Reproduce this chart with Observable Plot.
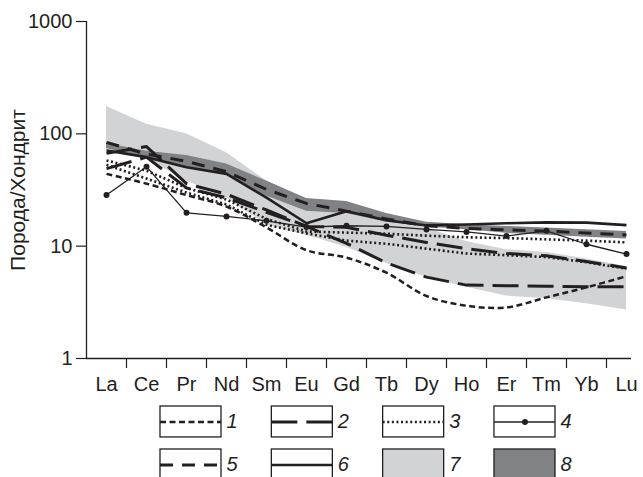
<!DOCTYPE html>
<html>
<head>
<meta charset="utf-8">
<script src="https://cdn.jsdelivr.net/npm/d3@7"></script>
<script src="https://cdn.jsdelivr.net/npm/@observablehq/plot@0.6"></script>
<style>
  body { margin: 0; background: #fff; }
  #chart svg, #legend svg { display: block; }
</style>
</head>
<body>
<div id="chart"></div>
<div id="legend"></div>
<script>
// ---------- data ----------
const elements = ["La","Ce","Pr","Nd","Sm","Eu","Gd","Tb","Dy","Ho","Er","Tm","Yb","Lu"];
const yTicks = [1, 10, 100, 1000];
const yLabel = "Порода/Хондрит";

const series1  = [44, 36, 28.5, 22.5, 14.7, 9.2, 7.9, 5.8, 3.6, 2.95, 2.85, 3.5, 4.3, 5.4];
const series2a = [67, 77, 36, 29, 21, 15, 10.6, 7.1, 5.3, 4.5, 4.45, 4.4, 4.35, 4.35];
const series2b = [49, 62, 33, 27, 20, 15, 14.7, 12.5, 10.8, 9.5, 8.6, 8.2, 7.3, 6.4];
const series3a = [58, 47, 33, 26, 17.5, 13.5, 13.2, 12.9, 12.4, 12, 11.8, 11.5, 11.2, 10.8];
const series3b = [53, 40, 30, 23.5, 15.5, 13, 11.2, 10.5, 9.5, 8.6, 8.3, 8.0, 7.2, 6.3];
const series4  = [28.5, 51, 19.8, 18.4, 16.8, 14.8, 15.2, 15, 14.1, 13.4, 12.3, 13.7, 10.4, 8.5];
const series5  = [84, 66, 57, 46, 32, 24, 20.5, 17.5, 15.2, 14.4, 14, 13.6, 13.1, 12.6];
const series6  = [71, 62, 50.5, 44, 27, 16, 20.5, 17, 15.3, 15.6, 16, 16.3, 16.2, 15.4];

const band7Upper = [175, 122, 100, 68, 38, 26, 23.5, 18, 14.5, 11, 9.3, 8.8, 7.7, 6.6];
const band7Lower = [71, 60, 38, 27, 15.5, 12.5, 9.8, 7, 5.3, 4.3, 3.6, 3.4, 3.07, 2.7];
const band8Upper = [82, 70, 64, 54, 38, 26.5, 25, 19.5, 16.3, 15.5, 15, 14.5, 14, 13.5];
const band8Lower = [74, 60, 50, 43, 28, 20.5, 19.5, 16.3, 14.8, 14, 13, 12.5, 12, 11.6];

const legendLabels = ["1", "2", "3", "4", "5", "6", "7", "8"];

// ---------- styles ----------
const ink = "#231f20";
const lightGray = "#d1d3d4";
const darkGray = "#808285";
const font = "'Liberation Sans', Arial, Helvetica, sans-serif";

const styles = {
  1: {strokeWidth: 2.5, strokeDasharray: "6,3.5"},
  2: {strokeWidth: 3, strokeDasharray: "26,9"},
  3: {strokeWidth: 2.6, strokeDasharray: "2,2.6"},
  4: {strokeWidth: 1.3},
  5: {strokeWidth: 3, strokeDasharray: "13,9"},
  6: {strokeWidth: 2.6}
};

const pts = arr => arr.map((v, i) => ({i, v})).filter(d => d.v != null);
const band = (lo, hi) => lo.map((l, i) => ({i, lo: l, hi: hi[i]})).filter(d => d.lo != null && d.hi != null);

const lineDefs = [
  {vals: series1, st: 1, curve: "catmull-rom"},
  {vals: series2a, st: 2, curve: "linear"},
  {vals: series2b, st: 2, curve: "linear"},
  {vals: series3a, st: 3, curve: "linear"},
  {vals: series3b, st: 3, curve: "linear"},
  {vals: series5, st: 5, curve: "linear"},
  {vals: series6, st: 6, curve: "linear"},
  {vals: series4, st: 4, curve: "linear"}
];

const chart = Plot.plot({
  width: 643,
  height: 400,
  marginLeft: 86,
  marginRight: 12,
  marginTop: 21,
  marginBottom: 42,
  style: {fontFamily: font, fontSize: "20px", color: ink, background: "white", overflow: "visible"},
  x: {type: "linear", domain: [-0.5, 13.125], axis: null, label: null},
  y: {type: "log", domain: [1, 1000], axis: null, label: null},
  marks: [
    Plot.areaY(band(band7Lower, band7Upper), {x: "i", y1: "lo", y2: "hi", fill: lightGray}),
    Plot.areaY(band(band8Lower, band8Upper), {x: "i", y1: "lo", y2: "hi", fill: darkGray}),
    ...lineDefs.map(d => Plot.line(pts(d.vals), {
      x: "i", y: "v", stroke: ink, curve: d.curve, strokeLinecap: "butt", strokeLinejoin: "round",
      ...styles[d.st]
    })),
    Plot.dot(pts(series4), {x: "i", y: "v", r: 3, fill: ink}),
    Plot.ruleY([1], {stroke: ink, strokeWidth: 1.3}),
    Plot.ruleX([-0.5], {y1: 1, y2: 1000, stroke: ink, strokeWidth: 1.3}),
    Plot.axisX({ticks: d3.range(0.5, 13, 1), tickSize: 10, tickFormat: () => "", stroke: ink, strokeWidth: 1.2, label: null}),
    Plot.axisX({ticks: d3.range(0, 14, 1), tickSize: 0, tickPadding: 18, tickFormat: i => elements[i], fill: ink, fontSize: 20, label: null}),
    Plot.axisY({ticks: yTicks, tickSize: 10, tickPadding: 4, tickFormat: d => String(d), stroke: ink, strokeWidth: 1.2, fill: ink, fontSize: 20, label: null}),
    Plot.text([yLabel], {frameAnchor: "left", textAnchor: "middle", lineAnchor: "middle", dx: -68, rotate: -90, fontSize: 21, fill: ink})
  ]
});
document.getElementById("chart").appendChild(chart);

// ---------- legend ----------
const boxW = 0.548, boxH = 0.72;
const items = legendLabels.map((label, k) => ({label, k, col: k % 4, row: Math.floor(k / 4)}));
const boxFill = k => (k === 6 ? lightGray : k === 7 ? darkGray : "white");
const lineItems = items.filter(d => d.k < 6);

const legend = Plot.plot({
  width: 643,
  height: 77,
  margin: 0,
  style: {fontFamily: font, fontSize: "20px", color: ink, background: "white"},
  x: {type: "linear", domain: [0, 4], range: [160, 605.3], axis: null},
  y: {type: "linear", domain: [0, 2], range: [6, 92], axis: null},
  marks: [
    Plot.rect(items, {x1: "col", x2: d => d.col + boxW, y1: "row", y2: d => d.row + boxH,
      fill: d => boxFill(d.k), stroke: ink, strokeWidth: 1.3}),
    ...lineItems.map(d => Plot.ruleY([d], {x1: e => e.col, x2: e => e.col + boxW, y: e => e.row + boxH / 2,
      stroke: ink, strokeLinecap: "butt", ...styles[d.k + 1]})),
    Plot.dot(items.filter(d => d.k === 3), {x: d => d.col + boxW / 2, y: d => d.row + boxH / 2, r: 3, fill: ink}),
    Plot.text(items, {x: d => d.col + boxW, y: d => d.row + boxH / 2, dx: 5, text: "label",
      textAnchor: "start", fontStyle: "italic", fontSize: 20, fill: ink})
  ]
});
document.getElementById("legend").appendChild(legend);
</script>
</body>
</html>
